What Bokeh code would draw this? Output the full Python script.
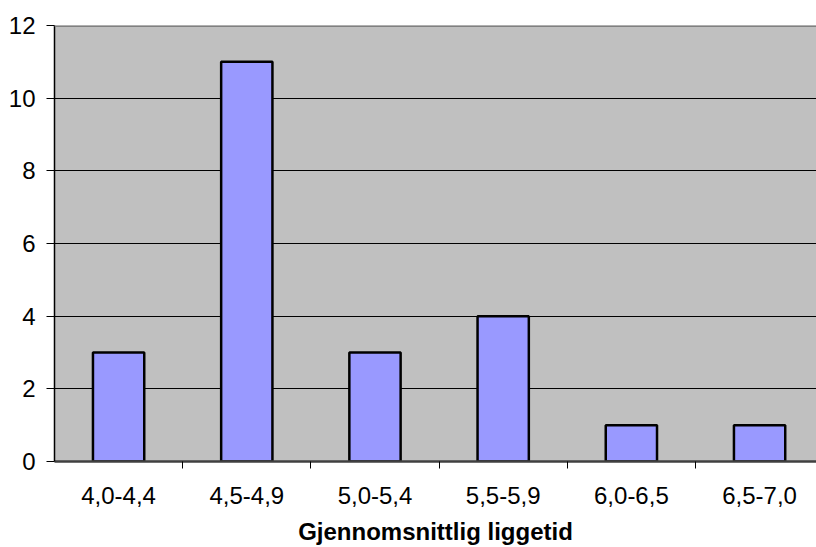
from bokeh.plotting import figure
from bokeh.models import Range1d, FixedTicker, Span
from bokeh.embed import file_html
from bokeh.resources import INLINE

# Distribution of average length of stay (liggetid)
categories = ["4,0-4,4", "4,5-4,9", "5,0-5,4", "5,5-5,9", "6,0-6,5", "6,5-7,0"]
counts = [3, 11, 3, 4, 1, 1]
y_ticks = [0, 2, 4, 6, 8, 10, 12]
x_title = "Gjennomsnittlig liggetid"

centers = [i + 0.5 for i in range(len(categories))]
boundaries = [i for i in range(1, len(categories) + 1)]

FONT = "Liberation Sans"

p = figure(
    width=816, height=547,
    x_range=Range1d(0, 5.944), y_range=Range1d(0, 12),
    output_backend="svg", toolbar_location=None,
    min_border_left=54, min_border_right=0, min_border_top=25, min_border_bottom=86,
)
p.background_fill_color = "#C0C0C0"
p.border_fill_color = "white"
p.outline_line_color = None

p.vbar(x=centers, top=counts, width=0.4, bottom=0,
       fill_color="#9999FF", line_color="black", line_width=2.5)

# horizontal gridlines
p.xgrid.visible = False
p.ygrid.ticker = FixedTicker(ticks=y_ticks)
p.ygrid.grid_line_color = "black"
p.ygrid.grid_line_width = 1

# top edge of the plot area
p.add_layout(Span(location=12, dimension="width", line_color="#808080", line_width=3))

# y axis
p.yaxis.ticker = FixedTicker(ticks=y_ticks)
p.yaxis.axis_line_color = "black"
p.yaxis.axis_line_width = 1.5
p.yaxis.major_tick_line_color = "black"
p.yaxis.major_tick_out = 8
p.yaxis.major_tick_in = 0
p.yaxis.minor_tick_line_color = None
p.yaxis.major_label_standoff = 11
p.yaxis.major_label_text_font = FONT
p.yaxis.major_label_text_font_size = "24px"
p.yaxis.major_label_text_color = "black"

# x axis: labels at category centres, tick marks at category boundaries
p.xaxis.ticker = FixedTicker(ticks=centers, minor_ticks=boundaries)
p.xaxis.major_label_overrides = {c: lab for c, lab in zip(centers, categories)}
p.xaxis.axis_line_color = "#404040"
p.xaxis.axis_line_width = 2.5
p.xaxis.major_tick_line_color = None
p.xaxis.major_tick_out = 0
p.xaxis.major_tick_in = 0
p.xaxis.minor_tick_line_color = "black"
p.xaxis.minor_tick_out = 7
p.xaxis.minor_tick_in = 0
p.xaxis.major_label_standoff = 18
p.xaxis.major_label_text_font = FONT
p.xaxis.major_label_text_font_size = "24px"
p.xaxis.major_label_text_color = "black"
p.xaxis.axis_label = x_title
p.xaxis.axis_label_text_font = FONT
p.xaxis.axis_label_text_font_size = "24px"
p.xaxis.axis_label_text_font_style = "bold"
p.xaxis.axis_label_text_color = "black"
p.xaxis.axis_label_standoff = 11

open("out.html", "w").write(file_html(p, INLINE))
